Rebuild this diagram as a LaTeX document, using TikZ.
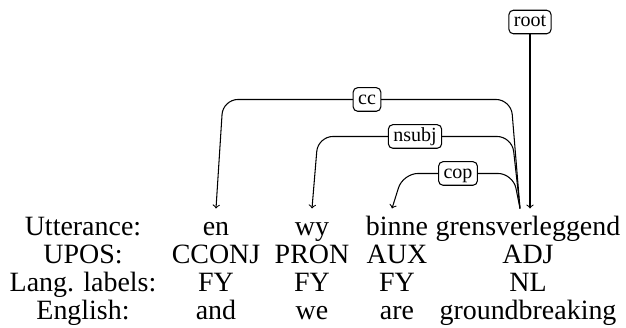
\documentclass[tikz,border=0pt]{standalone}
\usepackage{fontspec}
\setmainfont{Liberation Serif}
\usetikzlibrary{calc}

\begin{document}
\begin{tikzpicture}[
  line width=0.6pt,
  word/.style={anchor=base, inner sep=0pt, text height=0.52cm, font=\fontsize{15.9}{19}\selectfont},
  deplabel/.style={draw, rounded corners=2.5pt, fill=white, inner xsep=2.8pt, inner ysep=1.6pt,
    text height=7.8pt, text depth=2.4pt, font=\fontsize{11.4}{13}\selectfont},
  deparc/.style={->, rounded corners=0.3cm}
]
\useasboundingbox (0,0) rectangle (12.52,6.54);

% Utterance row
\node[word] (utt) at (1.66, 1.84) {Utterance:};
\node[word] (en) at (4.32, 1.84) {en};
\node[word] (wy) at (6.24, 1.84) {wy};
\node[word] (binne) at (7.94, 1.84) {binne};
\node[word] (gv) at (10.56, 1.84) {grensverleggend};

% UPOS row
\node[word] (upos) at (1.66, 1.28) {UPOS:};
\node[word] (upos1) at (4.32, 1.28) {CCONJ};
\node[word] (upos2) at (6.24, 1.28) {PRON};
\node[word] (upos3) at (7.94, 1.28) {AUX};
\node[word] (upos4) at (10.56, 1.28) {ADJ};

% Language labels row
\node[word] (lang) at (1.66, 0.72) {Lang. labels:};
\node[word] (lang1) at (4.32, 0.72) {FY};
\node[word] (lang2) at (6.24, 0.72) {FY};
\node[word] (lang3) at (7.94, 0.72) {FY};
\node[word] (lang4) at (10.56, 0.72) {NL};

% English row
\node[word] (eng) at (1.66, 0.16) {English:};
\node[word] (eng1) at (4.32, 0.16) {and};
\node[word] (eng2) at (6.24, 0.16) {we};
\node[word] (eng3) at (7.94, 0.16) {are};
\node[word] (eng4) at (10.56, 0.16) {groundbreaking};

% Root
\node[deplabel] (root) at (10.60, 6.10) {root};
\draw[->] (root.south) -- (root.south |- gv.north);

% Dependency arcs
\draw[deparc] ([xshift=-0.16cm]gv.north) -- ++(-0.18,2.18) coordinate (ccR)
  -- node[deplabel] {cc} ([xshift=0.14cm]ccR -| en.north) -- (en.north);
\draw[deparc] ([xshift=-0.16cm]gv.north) -- ++(-0.16,1.44) coordinate (nsubjR)
  -- node[deplabel] {nsubj} ([xshift=0.12cm]nsubjR -| wy.north) -- (wy.north);
\draw[deparc] ([xshift=-0.16cm]gv.north) -- ++(-0.14,0.70) coordinate (copR)
  -- node[deplabel] {cop} ([xshift=0.12cm]copR -| binne.north) -- ([xshift=-0.1cm]binne.north);

\end{tikzpicture}
\end{document}
